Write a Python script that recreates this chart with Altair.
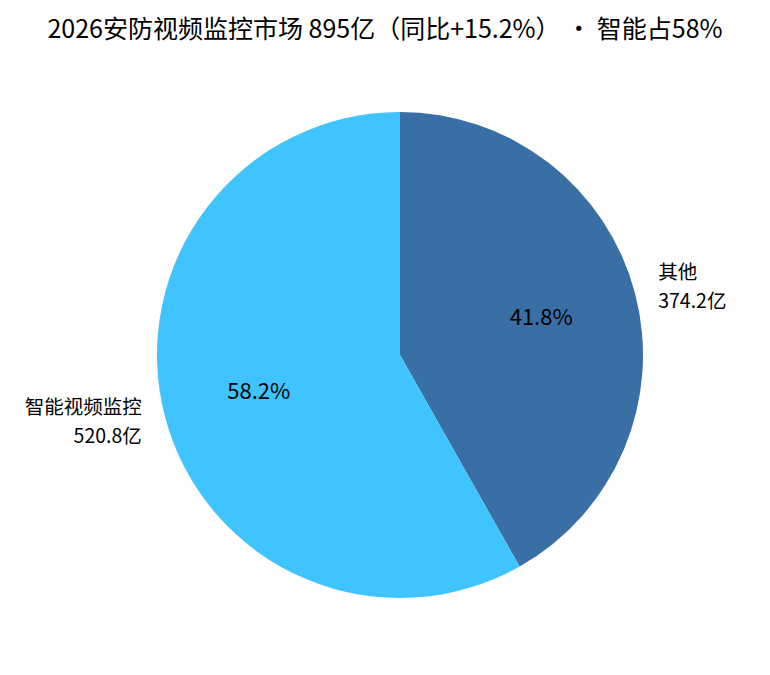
import altair as alt
import pandas as pd

categories = ["其他", "智能视频监控"]
values = [374.2, 520.8]
pct_labels = ["41.8%", "58.2%"]
colors = ["#3a6fa5", "#40c4ff"]
order = [0, 1]

df = pd.DataFrame({
    "cat": categories,
    "value": values,
    "pct": pct_labels,
    "ord": order,
    "amount": [f"{v}亿" for v in values],
})

FONT = "Noto Sans CJK SC"
CX, CY = 392, 297
R = 243

base = alt.Chart(df).encode(
    theta=alt.Theta("value:Q", stack=True),
    order=alt.Order("ord:Q"),
    x=alt.value(CX),
    y=alt.value(CY),
)

arcs = base.mark_arc(radius=R).encode(
    color=alt.Color("cat:N", scale=alt.Scale(domain=categories, range=colors), legend=None)
)

inner = base.mark_text(radius=146, font=FONT, fontSize=22, color="#000000").encode(
    text="pct:N"
)


def outer(cat, field, align, dy):
    return base.mark_text(radius=267, font=FONT, fontSize=19.5, color="#000000",
                          align=align, baseline="middle", dy=dy).encode(
        text=alt.condition(alt.datum.cat == cat, f"{field}:N", alt.value(""))
    )


layers = [
    arcs,
    inner,
    outer("其他", "cat", "left", -14.5),
    outer("其他", "amount", "left", 14.5),
    outer("智能视频监控", "cat", "right", -14.5),
    outer("智能视频监控", "amount", "right", 14.5),
]

chart = alt.layer(*layers).properties(
    width=754,
    height=600,
    autosize=alt.AutoSizeParams(type="none"),
    padding={"top": 50, "left": 0, "right": 0, "bottom": 0},
    title=alt.TitleParams(
        "2026安防视频监控市场 895亿（同比+15.2%） · 智能占58%",
        font=FONT, fontSize=25, fontWeight="normal", color="#000000",
        anchor="middle", offset=15,
    ),
).configure_view(stroke=None)

chart.save("out.html", embed_options={"renderer": "svg", "actions": False})
